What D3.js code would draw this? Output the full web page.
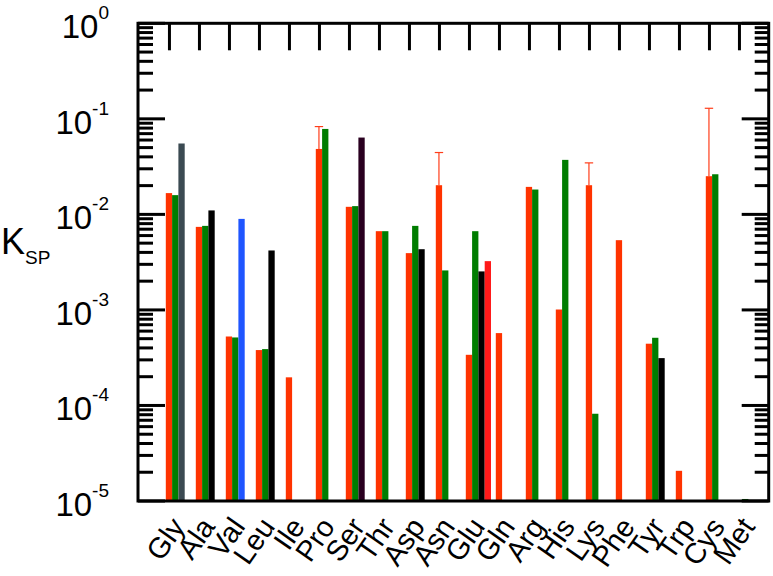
<!DOCTYPE html>
<html>
<head>
<meta charset="utf-8">
<script src="https://cdn.jsdelivr.net/npm/d3@7"></script>
<style>
  body { margin: 0; background: #fff; }
  svg { font-family: "Liberation Sans", Arial, sans-serif; }
</style>
</head>
<body>
<div id="chart"></div>
<script>
// amino acids along the x axis
const categories = ["Gly", "Ala", "Val", "Leu", "Ile", "Pro", "Ser", "Thr", "Asp", "Asn",
  "Glu", "Gln", "Arg", "His", "Lys", "Phe", "Tyr", "Trp", "Cys", "Met"];

// first bar of each group (red)
const redVals = [0.0167, 0.0074, 5.27e-4, 3.8e-4, 1.97e-4, 0.0484, 0.012, 0.00667, 0.00393, 0.0202,
  3.39e-4, 5.72e-4, 0.0194, 1.01e-3, 0.0202, 0.00537, 4.43e-4, 2.07e-5, 0.0251, null];
// upper end of the error bars on the red bars
const redErrTop = [null, null, null, null, null, 0.083, null, null, null, 0.0444,
  null, null, null, null, 0.0346, null, null, null, 0.129, null];
// second bar (green)
const greenVals = [0.0159, 0.00758, 5.15e-4, 3.89e-4, null, 0.0784, 0.0122, 0.00667, 0.00758, 2.59e-3,
  6.67e-3, null, 0.0182, 0.0372, 8.19e-5, null, 5.11e-4, null, 0.0263, 1.05e-5];
// third bar (mostly black)
const thirdVals = [0.0552, 0.011, 0.00897, 0.00419, null, null, 0.0637, null, 0.00432, null,
  2.53e-3, null, null, null, null, null, 3.13e-4, null, null, null];
const thirdColors = ["#3b4a52", "#000", "#1f55ff", "#000", "#000", "#000", "#2a0020", "#000", "#000", "#000",
  "#000", "#000", "#000", "#000", "#000", "#000", "#000", "#000", "#000", "#000"];
// fourth bar (only Glu)
const fourthVals = [null, null, null, null, null, null, null, null, null, null,
  3.24e-3, null, null, null, null, null, null, null, null, null];

const decadeTicks = [1, 1e-1, 1e-2, 1e-3, 1e-4, 1e-5];
const decadeExps = ["0", "-1", "-2", "-3", "-4", "-5"];

const W = 773, H = 576;
const frame = {left: 138, right: 768.7, top: 23.3, bottom: 501};
const barW = 6.3;

const svg = d3.select("#chart").append("svg")
  .attr("width", W)
  .attr("height", H);

const x = d3.scaleBand()
  .domain(categories)
  .range([165.8, 165.8 + 30 * categories.length]);

const y = d3.scaleLog()
  .domain([1e-5, 1])
  .range([frame.bottom, frame.top]);

// bars
function drawBars(vals, slot, color) {
  const data = categories.map((c, i) => ({c: c, v: vals[i], i: i})).filter(d => d.v != null);
  svg.append("g").selectAll("rect")
    .data(data)
    .enter()
    .append("rect")
    .attr("x", d => x(d.c) + slot * barW)
    .attr("y", d => y(d.v))
    .attr("width", barW)
    .attr("height", d => y(1e-5) - y(d.v))
    .attr("fill", typeof color === "function" ? color : () => color);
}
drawBars(redVals, 0, "#ff3300");
drawBars(greenVals, 1, "#007d00");
drawBars(thirdVals, 2, d => thirdColors[d.i]);
drawBars(fourthVals, 3, "#ff1a1a");

// error bars
const errData = categories.map((c, i) => ({c: c, v: redVals[i], e: redErrTop[i]})).filter(d => d.e != null);
const eg = svg.append("g").attr("stroke", "#ff3d1a").attr("stroke-width", 1.2);
eg.selectAll(".ev").data(errData).enter().append("line")
  .attr("x1", d => x(d.c) + barW / 2).attr("x2", d => x(d.c) + barW / 2)
  .attr("y1", d => y(d.v)).attr("y2", d => y(d.e));
eg.selectAll(".ec").data(errData).enter().append("line")
  .attr("x1", d => x(d.c) + barW / 2 - 4.2).attr("x2", d => x(d.c) + barW / 2 + 4.2)
  .attr("y1", d => y(d.e)).attr("y2", d => y(d.e));

// y ticks, left and right
const allTicks = y.ticks();
const isDecade = v => Math.abs(Math.log10(v) - Math.round(Math.log10(v))) < 1e-9;
const tg = svg.append("g").attr("stroke", "#000").attr("stroke-width", 3);
tg.selectAll(".lt").data(allTicks).enter().append("line")
  .attr("x1", frame.left).attr("x2", d => frame.left + (isDecade(d) ? 27 : 15))
  .attr("y1", d => y(d)).attr("y2", d => y(d));
tg.selectAll(".rt").data(allTicks).enter().append("line")
  .attr("x1", frame.right).attr("x2", d => frame.right - (isDecade(d) ? 27 : 14))
  .attr("y1", d => y(d)).attr("y2", d => y(d));

// top ticks
tg.selectAll(".tt").data(categories).enter().append("line")
  .attr("x1", d => x(d) + barW / 2 + 0.5).attr("x2", d => x(d) + barW / 2 + 0.5)
  .attr("y1", frame.top).attr("y2", frame.top + 27);

// frame
svg.append("rect")
  .attr("x", frame.left).attr("y", frame.top)
  .attr("width", frame.right - frame.left)
  .attr("height", frame.bottom - frame.top)
  .attr("fill", "none")
  .attr("stroke", "#000")
  .attr("stroke-width", 3);

// y tick labels 10^n
const yl = svg.append("g");
decadeTicks.forEach((v, i) => {
  const t = yl.append("text")
    .attr("x", 109)
    .attr("y", y(v) + 15)
    .attr("text-anchor", "end")
    .style("font-size", "33px");
  t.append("tspan").text("10");
  t.append("tspan").attr("dy", -19).style("font-size", "19px").text(decadeExps[i]);
});

// x tick labels
svg.append("g").selectAll("text")
  .data(categories)
  .enter()
  .append("text")
  .attr("transform", d => `translate(${x(d) + 12}, 521) rotate(-55)`)
  .attr("text-anchor", "end")
  .attr("dy", "0.35em")
  .style("font-size", "29px")
  .text(d => d);

// y axis title
const yt = svg.append("text").attr("x", 1).attr("y", 254).style("font-size", "36px");
yt.append("tspan").text("K");
yt.append("tspan").attr("dy", 10).style("font-size", "19px").text("SP");
</script>
</body>
</html>
